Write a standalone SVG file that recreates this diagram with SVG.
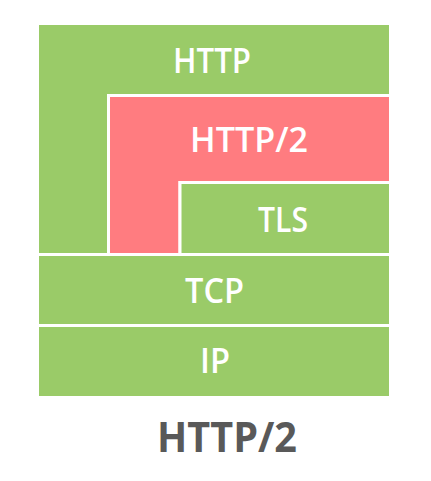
<svg xmlns="http://www.w3.org/2000/svg" width="431" height="481" viewBox="0 0 431 481">
<style>
.g{fill:#9ACB68;stroke:#FFFFFF;stroke-width:3;stroke-linejoin:miter}
.r{fill:#FF7C80;stroke:#FFFFFF;stroke-width:3;stroke-linejoin:miter}
.t{font-family:"Open Sans","Liberation Sans",sans-serif;font-weight:600;font-size:35px;fill:#FFFFFF;text-anchor:middle}
.title{font-family:"Open Sans","Liberation Sans",sans-serif;font-weight:700;font-size:42px;fill:#595959;text-anchor:middle}
</style>
<rect width="431" height="481" fill="#FFFFFF"/>
<g id="http">
<path class="g" d="M37.5,23.5 H390.5 V95.5 H108.5 V254.5 H37.5 Z"/>
<text class="t" x="212" y="73" textLength="78" lengthAdjust="spacingAndGlyphs">HTTP</text>
</g>
<g id="http2">
<path class="r" d="M108.5,95.5 H390.5 V182.5 H180 V254.5 H108.5 Z"/>
<text class="t" x="249" y="152" textLength="118" lengthAdjust="spacingAndGlyphs">HTTP/2</text>
</g>
<g id="tls">
<path class="g" d="M180,182.5 H390.5 V254.5 H180 Z"/>
<text class="t" x="283" y="232" textLength="50" lengthAdjust="spacingAndGlyphs">TLS</text>
</g>
<g id="tcp">
<path class="g" d="M37.5,254.5 H390.5 V325.5 H37.5 Z"/>
<text class="t" x="214.5" y="303" textLength="59" lengthAdjust="spacingAndGlyphs">TCP</text>
</g>
<g id="ip">
<path class="g" d="M37.5,325.5 H390.5 V397.5 H37.5 Z"/>
<text class="t" x="215" y="373" textLength="30" lengthAdjust="spacingAndGlyphs">IP</text>
</g>
<g id="connectors"></g>
<g id="caption">
<text class="title" x="227" y="452" textLength="140" lengthAdjust="spacingAndGlyphs">HTTP/2</text>
</g>
</svg>
